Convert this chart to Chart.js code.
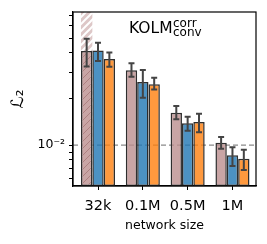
<!DOCTYPE html>
<html><head><meta charset="utf-8">
<script src="https://cdn.jsdelivr.net/npm/chart.js@4/dist/chart.umd.min.js"></script>
<style>html,body{margin:0;padding:0;background:#fff}canvas{display:block}</style>
</head><body>
<canvas id="c" width="267" height="244"></canvas>
<script>
// ---- data ----
const categories = ['32k', '0.1M', '0.5M', '1M'];
const pinkValues   = [0.0411, 0.0308, 0.01626, 0.01035];
const pinkLow      = [0.0326, 0.0279, 0.01472, 0.00946];
const pinkHigh     = [0.0495, 0.0342, 0.0180, 0.01128];
const blueValues   = [0.0415, 0.0258, 0.01387, 0.00857];
const blueLow      = [0.0354, 0.0204, 0.01240, 0.00729];
const blueHigh     = [0.0466, 0.0309, 0.01531, 0.00966];
const orangeValues = [0.0365, 0.0250, 0.01413, 0.00814];
const orangeLow    = [0.0325, 0.0231, 0.01210, 0.00687];
const orangeHigh   = [0.0403, 0.0275, 0.01601, 0.00932];
const offScaleValue = [1];          // 32k pink run goes beyond the axis
const refLevel = 0.01;
const yTickValues = [0.006, 0.007, 0.008, 0.009, 0.01, 0.02, 0.03, 0.04, 0.05, 0.06, 0.07];
const yMin = 0.0054, yMax = 0.074;
const xMin = -0.558, xMax = 3.525;

// ---- styles ----
const FONT = 'DejaVu Sans';
const pink = 'rgba(188,143,143,0.8)';
const blue = 'rgba(31,119,180,0.8)';
const orange = 'rgba(255,127,14,0.8)';
const edge = '#2e2e2e';

function hatch(bg, fg, lw, s) {
  const c = document.createElement('canvas');
  c.width = s; c.height = s;
  const g = c.getContext('2d');
  g.fillStyle = bg; g.fillRect(0, 0, s, s);
  g.strokeStyle = fg; g.lineWidth = lw;
  g.beginPath();
  g.moveTo(-1, s + 1); g.lineTo(s + 1, -1);
  g.moveTo(-1, 1); g.lineTo(1, -1);
  g.moveTo(s - 1, s + 1); g.lineTo(s + 1, s - 1);
  g.stroke();
  return document.createElement('canvas').getContext('2d').createPattern(c, 'repeat');
}
const pinkHatch = hatch('#c9a5a5', 'rgba(150,100,100,0.55)', 1, 7);
const bgHatch = hatch('rgba(188,143,143,0.5)', '#ffffff', 2, 7);

const xy = arr => arr.map((v, i) => ({x: i, y: v}));

const refLine = {
  id: 'refLine',
  beforeDatasetsDraw(chart) {
    const {ctx, chartArea: a, scales: {y}} = chart;
    const py = y.getPixelForValue(refLevel);
    ctx.save();
    ctx.strokeStyle = '#8a8a8a'; ctx.lineWidth = 1.2; ctx.setLineDash([5, 3]);
    ctx.beginPath(); ctx.moveTo(a.left, py); ctx.lineTo(a.right, py); ctx.stroke();
    ctx.restore();
  }
};

const errorBars = {
  id: 'errorBars',
  afterDatasetsDraw(chart) {
    const {ctx, scales: {y}} = chart;
    ctx.save();
    ctx.strokeStyle = '#444'; ctx.lineWidth = 2;
    chart.data.datasets.forEach((ds, di) => {
      if (!ds.errLow) return;
      const meta = chart.getDatasetMeta(di);
      meta.data.forEach((el, i) => {
        const x = el.x;
        const lo = y.getPixelForValue(ds.errLow[i]);
        const hi = y.getPixelForValue(ds.errHigh[i]);
        ctx.beginPath();
        ctx.moveTo(x, lo); ctx.lineTo(x, hi);
        ctx.moveTo(x - 3, lo); ctx.lineTo(x + 3, lo);
        ctx.moveTo(x - 3, hi); ctx.lineTo(x + 3, hi);
        ctx.stroke();
      });
    });
    ctx.restore();
  }
};

const frameAndTitle = {
  id: 'frameAndTitle',
  afterDraw(chart) {
    const {ctx, chartArea: a} = chart;
    ctx.save();
    ctx.strokeStyle = '#000'; ctx.lineWidth = 1.2;
    ctx.strokeRect(a.left, a.top, a.right - a.left, a.bottom - a.top);
    ctx.fillStyle = '#000';
    ctx.textBaseline = 'alphabetic'; ctx.textAlign = 'left';
    ctx.font = '15.5px "' + FONT + '"';
    const kx = a.left + 56, ky = a.top + 20.5;
    ctx.fillText('KOLM', kx, ky);
    const w = ctx.measureText('KOLM').width;
    ctx.font = '12px "' + FONT + '"';
    ctx.fillText('corr', kx + w + 0.5, ky - 6);
    ctx.fillText('conv', kx + w + 0.5, ky + 3.5);
    ctx.restore();
  }
};

new Chart(document.getElementById('c'), {
  type: 'bar',
  data: {
    datasets: [
      {label: 'off-scale', data: xy(offScaleValue), stack: 'p', backgroundColor: bgHatch, borderWidth: 0, order: 5},
      {label: 'pink', data: xy(pinkValues), stack: 'p', backgroundColor: [pinkHatch, pink, pink, pink],
       borderColor: edge, borderWidth: 1.5, borderSkipped: false, order: 0, errLow: pinkLow, errHigh: pinkHigh},
      {label: 'blue', data: xy(blueValues), stack: 'b', backgroundColor: blue,
       borderColor: edge, borderWidth: 1.5, borderSkipped: false, order: 0, errLow: blueLow, errHigh: blueHigh},
      {label: 'orange', data: xy(orangeValues), stack: 'o', backgroundColor: orange,
       borderColor: edge, borderWidth: 1.5, borderSkipped: false, order: 0, errLow: orangeLow, errHigh: orangeHigh}
    ]
  },
  options: {
    responsive: false, animation: false, devicePixelRatio: 1,
    categoryPercentage: 0.76, barPercentage: 1,
    layout: {padding: {top: 12, right: 11, left: 0, bottom: 0}},
    plugins: {legend: {display: false}, tooltip: {enabled: false}},
    scales: {
      x: {
        type: 'linear', min: xMin, max: xMax, offset: false,
        afterBuildTicks: ax => { ax.ticks = categories.map((_, i) => ({value: i})); },
        afterFit: ax => { ax.height = 58; },
        ticks: {callback: v => categories[v] ?? '', autoSkip: false, maxRotation: 0,
                font: {family: FONT, size: 14.5}, color: '#000', padding: 8},
        grid: {drawOnChartArea: false, offset: false, tickLength: 4, tickColor: '#000', tickWidth: 1},
        border: {color: '#000', width: 1.2},
        title: {display: true, text: 'network size', font: {family: FONT, size: 12.5}, color: '#000',
                padding: {top: 0, bottom: 11}}
      },
      y: {
        type: 'logarithmic', min: yMin, max: yMax, stacked: false,
        afterBuildTicks: ax => { ax.ticks = yTickValues.map(v => ({value: v})); },
        afterFit: ax => { ax.width = 73; },
        ticks: {callback: v => v === refLevel ? '10⁻²' : '', autoSkip: false,
                font: {family: FONT, size: 12.5}, color: '#000', padding: 4},
        grid: {drawOnChartArea: false, tickLength: 4, tickColor: '#000', tickWidth: 1},
        border: {color: '#000', width: 1.2},
        title: {display: true, text: 'ℒ₂', font: {family: FONT, size: 17}, color: '#000',
                padding: {top: 8, bottom: 0}}
      }
    }
  },
  plugins: [refLine, errorBars, frameAndTitle]
});
</script>
</body></html>
